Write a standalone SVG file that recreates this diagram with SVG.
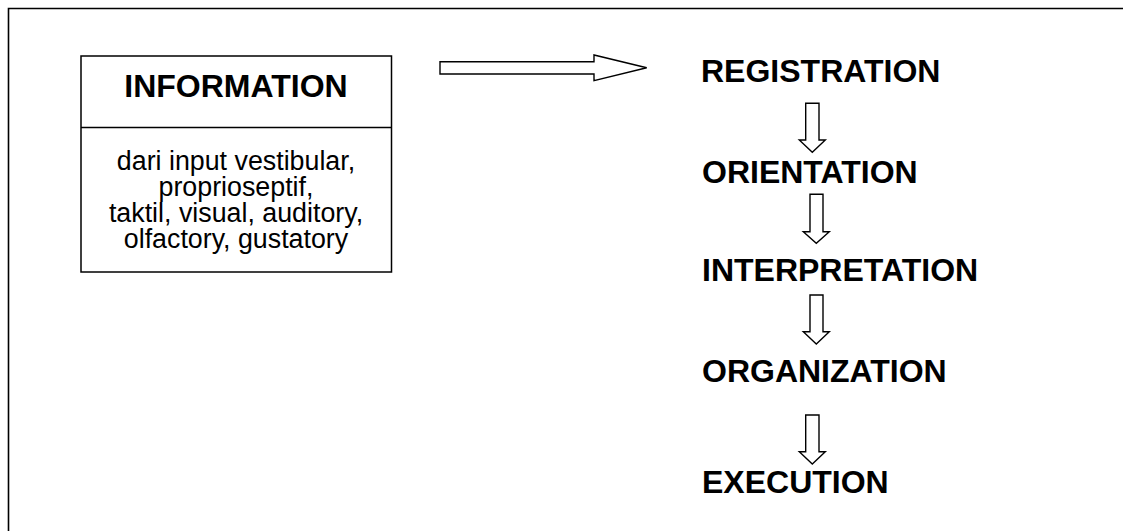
<svg xmlns="http://www.w3.org/2000/svg" width="1123" height="531" viewBox="0 0 1123 531">
  <defs>
    <style>
      .frame { fill: none; stroke: #000; stroke-width: 1.6; }
      .box { fill: #fff; stroke: #000; stroke-width: 1.5; }
      .arrow { fill: #fff; stroke: #000; stroke-width: 1.4; stroke-linejoin: miter; }
      .head { font-family: "Liberation Sans", Arial, sans-serif; font-weight: bold; font-size: 32px; fill: #000; }
      .body { font-family: "Liberation Sans", Arial, sans-serif; font-size: 26.8px; fill: #000; text-anchor: middle; }
    </style>
  </defs>
  <rect x="0" y="0" width="1123" height="531" fill="#fff"/>
  <path class="frame" d="M8.5,535 V8.5 H1130"/>

  <g id="information">
    <rect class="box" x="81" y="56" width="310.5" height="216"/>
    <line class="box" x1="81" y1="127.5" x2="391.5" y2="127.5"/>
    <text class="head" x="236" y="97" text-anchor="middle">INFORMATION</text>
    <text class="body" x="236" y="169.5">dari input vestibular,</text>
    <text class="body" x="236" y="195.8">proprioseptif,</text>
    <text class="body" x="236" y="222">taktil, visual, auditory,</text>
    <text class="body" x="236" y="248.3">olfactory, gustatory</text>
  </g>

  <g id="registration"><text class="head" x="701" y="82">REGISTRATION</text></g>
  <g id="orientation"><text class="head" x="702" y="182.5">ORIENTATION</text></g>
  <g id="interpretation"><text class="head" x="702" y="281">INTERPRETATION</text></g>
  <g id="organization"><text class="head" x="702" y="381.5">ORGANIZATION</text></g>
  <g id="execution"><text class="head" x="702" y="493">EXECUTION</text></g>

  <g id="connectors">
    <path class="arrow" d="M440,61.7 H594 V55 L646.7,67.7 L594,80.7 V74 H440 Z"/>
    <path class="arrow" d="M805.7,103.3 H819 V140 H825.3 L812.3,152.3 L799.3,140 H805.7 Z"/>
    <path class="arrow" d="M810,194.3 H823 V231.7 H829.3 L816.3,243.3 L803.3,231.7 H810 Z"/>
    <path class="arrow" d="M810,295 H823 V331.7 H829.3 L816.3,344 L803.3,331.7 H810 Z"/>
    <path class="arrow" d="M805.7,415 H819 V451.7 H825.3 L812.3,464 L799.3,451.7 H805.7 Z"/>
  </g>
</svg>
